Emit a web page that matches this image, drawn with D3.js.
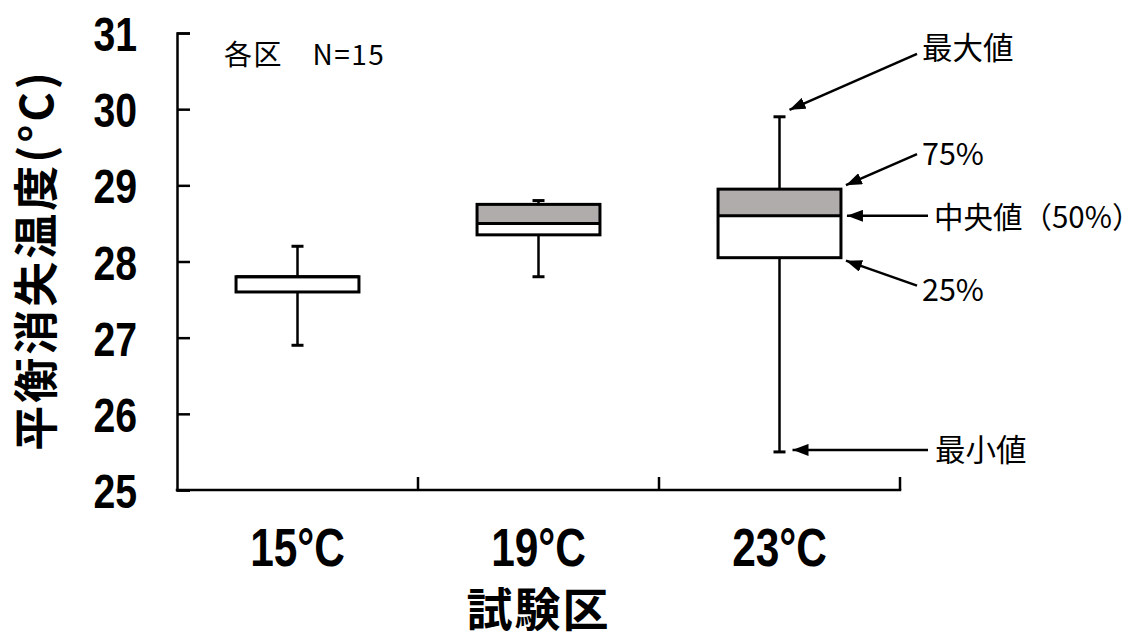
<!DOCTYPE html>
<html>
<head>
<meta charset="utf-8">
<script src="https://cdn.jsdelivr.net/npm/d3@7"></script>
<style>
  html, body { margin: 0; padding: 0; background: #fff; }
  svg { display: block; }
</style>
</head>
<body>
<script>
// ---- data ----
const categories = ["15°C", "19°C", "23°C"];
const minVals = [26.9, 27.8, 25.5];
const q1Vals  = [27.6, 28.35, 28.05];
const medVals = [27.8, 28.5, 28.6];
const q3Vals  = [27.8, 28.75, 28.95];
const maxVals = [28.2, 28.8, 29.9];
const yTicks = [25, 26, 27, 28, 29, 30, 31];
const yTitle = "平衡消失温度(°C)";
const xTitle = "試験区";
const noteText = "各区　N=15";
const annoLabels = { max: "最大値", q3: "75%", med: "中央値（50%）", q1: "25%", min: "最小値" };

(function () {
// ---- layout ----
const W = 1145, H = 635;
const mLeft = 177, mRight = 900, mTop = 33, mBottom = 490;
const numFont = "'Liberation Sans', Arial, sans-serif";
const cjkFont = "'Noto Sans CJK JP', 'Noto Sans', sans-serif";
const narrow = 0.8;

const svg = d3.select("body").append("svg").attr("width", W).attr("height", H);

const x = d3.scaleBand().domain(categories).range([mLeft, mRight]).padding(0);
const y = d3.scaleLinear().domain([25, 31]).range([mBottom, mTop]);
const boxW = x.bandwidth() * 0.51;
const capW = 12;

const data = categories.map((c, i) => ({
  cat: c, min: minVals[i], q1: q1Vals[i], med: medVals[i], q3: q3Vals[i], max: maxVals[i]
}));

// ---- y axis ----
const yAxis = d3.axisLeft(y).tickValues(yTicks).tickSize(-13).tickPadding(40).tickFormat(d3.format("d"));
const gy = svg.append("g").attr("transform", `translate(${mLeft},0)`).call(yAxis);
gy.select(".domain").attr("stroke", "#000").attr("stroke-width", 2.5);
gy.selectAll(".tick line").attr("stroke", "#000").attr("stroke-width", 2.5);
gy.selectAll(".tick text")
  .attr("font-family", numFont).attr("font-weight", "bold").attr("font-size", 49)
  .attr("fill", "#000").attr("dy", "0.36em")
  .attr("x", -40 / narrow).attr("transform", `scale(${narrow},1)`);

// ---- x axis ----
svg.append("line").attr("x1", mLeft).attr("x2", mRight).attr("y1", mBottom).attr("y2", mBottom)
  .attr("stroke", "#000").attr("stroke-width", 2.5).attr("stroke-linecap", "square");
const boundaries = categories.map(c => x(c) + x.bandwidth());
svg.append("g").selectAll("line").data(boundaries).join("line")
  .attr("x1", d => d).attr("x2", d => d).attr("y1", mBottom).attr("y2", mBottom - 13)
  .attr("stroke", "#000").attr("stroke-width", 2.5);
const xAxis = d3.axisBottom(x).tickSize(0).tickPadding(38);
const gx = svg.append("g").attr("transform", `translate(0,${mBottom})`).call(xAxis);
gx.select(".domain").remove();
gx.selectAll(".tick text")
  .attr("font-family", numFont).attr("font-weight", "bold").attr("font-size", 53)
  .attr("fill", "#000").attr("transform", `scale(${narrow},1)`);

// ---- titles ----
svg.append("text").attr("transform", `translate(53,260) rotate(-90)`)
  .attr("text-anchor", "middle").attr("font-family", cjkFont).attr("font-weight", "bold")
  .attr("font-size", 45).attr("letter-spacing", 3).attr("fill", "#000").text(yTitle);
svg.append("text").attr("x", x(categories[1]) + x.bandwidth() / 2).attr("y", 626)
  .attr("text-anchor", "middle").attr("font-family", cjkFont).attr("font-weight", "bold")
  .attr("font-size", 46).attr("letter-spacing", 2).attr("fill", "#000").text(xTitle);

svg.append("text").attr("x", 224).attr("y", 65)
  .attr("font-family", cjkFont).attr("font-size", 28).attr("letter-spacing", 1.5)
  .attr("fill", "#000").text(noteText);

// ---- boxes ----
const g = svg.append("g");
const bx = g.selectAll("g.box").data(data).join("g").attr("class", "box")
  .attr("transform", d => `translate(${x(d.cat) + x.bandwidth() / 2},0)`);

bx.append("line").attr("x1", 0).attr("x2", 0).attr("y1", d => y(d.max)).attr("y2", d => y(d.q3))
  .attr("stroke", "#000").attr("stroke-width", 2.5);
bx.append("line").attr("x1", 0).attr("x2", 0).attr("y1", d => y(d.q1)).attr("y2", d => y(d.min))
  .attr("stroke", "#000").attr("stroke-width", 2.5);
bx.append("line").attr("x1", -capW / 2).attr("x2", capW / 2).attr("y1", d => y(d.max)).attr("y2", d => y(d.max))
  .attr("stroke", "#000").attr("stroke-width", 3);
bx.append("line").attr("x1", -capW / 2).attr("x2", capW / 2).attr("y1", d => y(d.min)).attr("y2", d => y(d.min))
  .attr("stroke", "#000").attr("stroke-width", 3);

bx.append("rect").attr("x", -boxW / 2).attr("width", boxW)
  .attr("y", d => y(d.med)).attr("height", d => y(d.q1) - y(d.med))
  .attr("fill", "#fff");
bx.append("rect").attr("x", -boxW / 2).attr("width", boxW)
  .attr("y", d => y(d.q3)).attr("height", d => y(d.med) - y(d.q3))
  .attr("fill", "#b0acac");
bx.append("rect").attr("x", -boxW / 2).attr("width", boxW)
  .attr("y", d => y(d.q3)).attr("height", d => y(d.q1) - y(d.q3))
  .attr("fill", "none").attr("stroke", "#000").attr("stroke-width", 3);
bx.append("line").attr("x1", -boxW / 2).attr("x2", boxW / 2)
  .attr("y1", d => y(d.med)).attr("y2", d => y(d.med))
  .attr("stroke", "#000").attr("stroke-width", 3);

// ---- annotations (on last category) ----
svg.append("defs").append("marker").attr("id", "arrow")
  .attr("viewBox", "0 0 16 12").attr("refX", 16).attr("refY", 6)
  .attr("markerWidth", 16).attr("markerHeight", 12).attr("markerUnits", "userSpaceOnUse")
  .attr("orient", "auto")
  .append("path").attr("d", "M0,0 L16,6 L0,12 Z").attr("fill", "#000");

const last = data[data.length - 1];
const cx = x(last.cat) + x.bandwidth() / 2;
const rx = cx + boxW / 2;
const annos = [
  { key: "max", tip: [cx + 10, y(last.max) - 7], tail: [917, y(last.max) - 63], tx: 922, ty: y(last.max) - 63 - 6 },
  { key: "q3",  tip: [rx + 5, y(last.q3) - 4], tail: [917, y(last.q3) - 35], tx: 922, ty: y(last.q3) - 35 },
  { key: "med", tip: [rx + 6, y(last.med)], tail: [928, y(last.med)], tx: 934, ty: y(last.med) + 2 },
  { key: "q1",  tip: [rx + 5, y(last.q1) + 3], tail: [917, y(last.q1) + 28], tx: 922, ty: y(last.q1) + 32 },
  { key: "min", tip: [cx + 13, y(last.min) - 2], tail: [928, y(last.min) - 2], tx: 935, ty: y(last.min) - 2 }
];
const ga = svg.append("g");
ga.selectAll("line").data(annos).join("line")
  .attr("x1", d => d.tail[0]).attr("y1", d => d.tail[1])
  .attr("x2", d => d.tip[0]).attr("y2", d => d.tip[1])
  .attr("stroke", "#000").attr("stroke-width", 2.5).attr("marker-end", "url(#arrow)");
ga.selectAll("text").data(annos).join("text")
  .attr("x", d => d.tx).attr("y", d => d.ty).attr("dy", "0.36em")
  .attr("font-family", cjkFont).attr("font-size", d => d.key === "med" ? 29.5 : 30.5).attr("fill", "#000")
  .text(d => annoLabels[d.key]);
})();
</script>
</body>
</html>
